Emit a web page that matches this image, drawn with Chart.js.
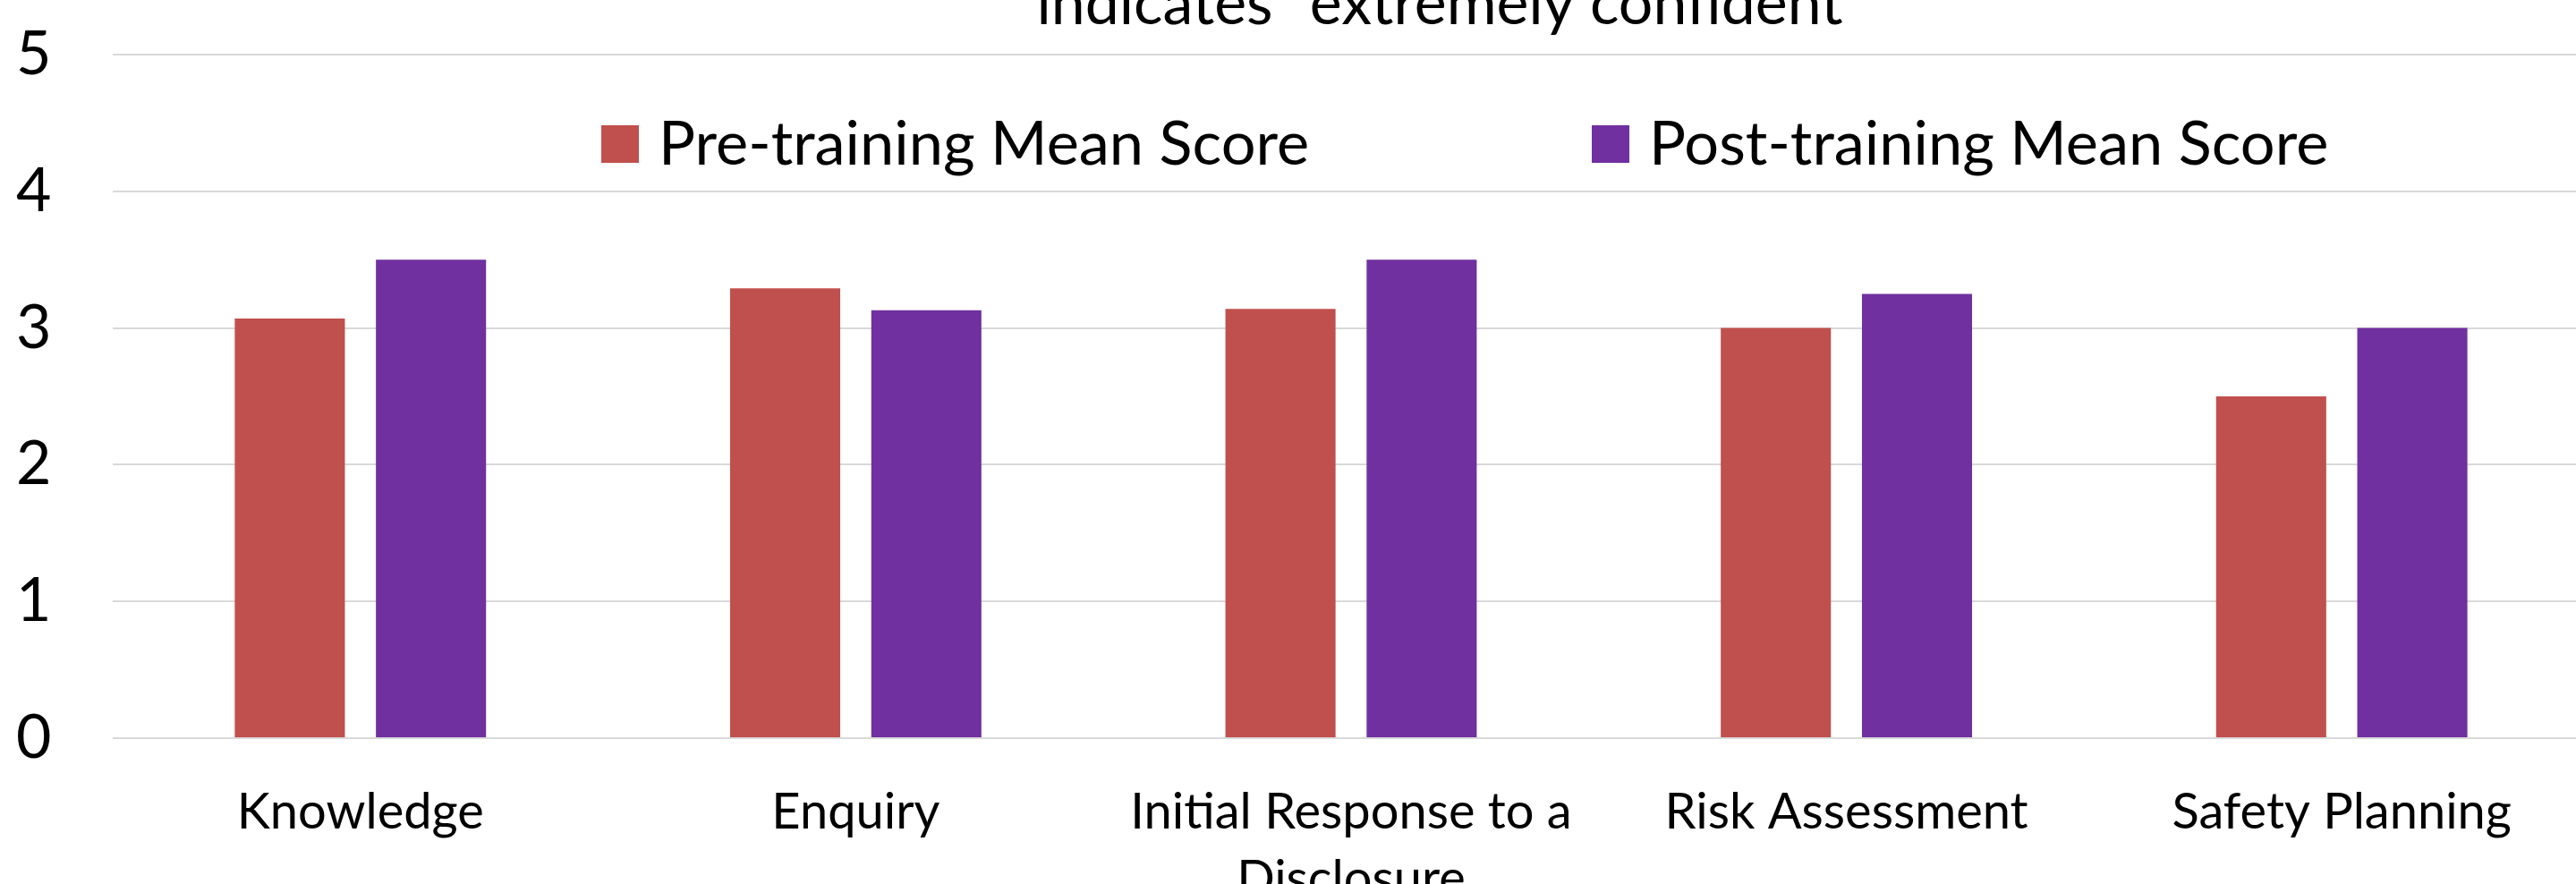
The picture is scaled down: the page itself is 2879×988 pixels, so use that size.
<!DOCTYPE html>
<html>
<head>
<meta charset="utf-8">
<title>Pre / Post training mean scores</title>
<script src="https://cdn.jsdelivr.net/npm/chart.js@4.4.1/dist/chart.umd.min.js"></script>
<style>
    html, body { margin: 0; padding: 0; background: #fff; overflow: hidden; }
    #wrap { position: relative; width: 2879px; height: 988px; overflow: hidden; }
    #scoreChart { position: absolute; left: 0; top: 0; }
</style>
</head>
<body>
<div id="wrap">
    <canvas id="scoreChart" width="2900" height="1024"></canvas>
</div>
<script>
// chart data
const categories = [
    'Knowledge',
    'Enquiry',
    ['Initial Response to a', 'Disclosure'],
    'Risk Assessment',
    'Safety Planning'
];
const seriesNames = ['Pre-training Mean Score', 'Post-training Mean Score'];
const preScores = [3.07, 3.29, 3.14, 3.0, 2.5];
const postScores = [3.5, 3.13, 3.5, 3.25, 3.0];
const yTicks = [0, 1, 2, 3, 4, 5];
// last line of the title, the rest is cut off above the picture
const titleTail = 'indicates "extremely confident';

const COLORS = ['#C0504D', '#7030A0'];
const FONT = 'Lato, "Open Sans", sans-serif';

// title line + legend sit inside the plot, so draw them by hand
const overlayPlugin = {
    id: 'overlay',
    afterDraw(chart) {
        const ctx = chart.ctx;
        const area = chart.chartArea;
        ctx.save();
        ctx.fillStyle = '#000';
        ctx.font = `68px ${FONT}`;
        ctx.textAlign = 'center';
        ctx.textBaseline = 'alphabetic';
        ctx.fillText(titleTail, 1609, 27);

        ctx.font = `68.5px ${FONT}`;
        const offsets = [546, 1653];
        chart.data.datasets.forEach((ds, i) => {
            const x = area.left + offsets[i];
            const top = area.top + 79;
            ctx.fillStyle = ds.backgroundColor;
            ctx.fillRect(x, top, 42, 42);
            ctx.fillStyle = '#000';
            ctx.textAlign = 'left';
            ctx.fillText(ds.label, x + 64, top + 44);
        });
        ctx.restore();
    }
};

document.addEventListener('DOMContentLoaded', function() {
    const ctx = document.getElementById('scoreChart').getContext('2d');

    new Chart(ctx, {
        type: 'bar',
        data: {
            labels: categories,
            datasets: [
                { label: seriesNames[0], data: preScores, backgroundColor: COLORS[0] },
                { label: seriesNames[1], data: postScores, backgroundColor: COLORS[1] }
            ]
        },
        plugins: [overlayPlugin],
        options: {
            responsive: false,
            animation: false,
            devicePixelRatio: 1,
            layout: { padding: { top: 61, right: 6, bottom: 0, left: 18 } },
            datasets: {
                bar: {
                    categoryPercentage: 0.57,
                    barPercentage: 0.78,
                    borderWidth: 0
                }
            },
            plugins: {
                legend: { display: false },
                title: { display: false },
                tooltip: { enabled: false }
            },
            scales: {
                x: {
                    grid: { display: false },
                    border: { display: false },
                    ticks: {
                        color: '#000',
                        padding: 37,
                        maxRotation: 0,
                        autoSkip: false,
                        font: { family: FONT, size: 56, lineHeight: 1.34 }
                    },
                    afterFit(scale) { scale.height = 199; }
                },
                y: {
                    min: 0,
                    max: 5,
                    afterBuildTicks(scale) {
                        scale.ticks = yTicks.map(v => ({ value: v }));
                    },
                    grid: { color: '#D9D9D9', lineWidth: 2, drawTicks: false },
                    border: { display: false },
                    ticks: {
                        color: '#000',
                        padding: 0,
                        crossAlign: 'far',
                        font: { family: FONT, size: 68 }
                    },
                    afterFit(scale) { scale.width = 108; }
                }
            }
        }
    });
});
</script>
</body>
</html>
